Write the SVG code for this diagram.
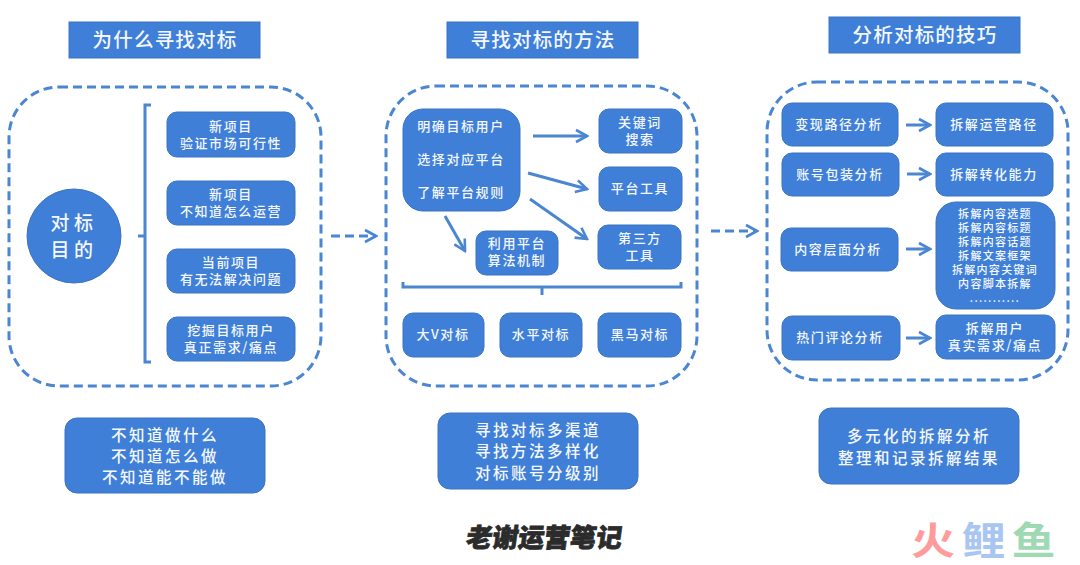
<svg xmlns="http://www.w3.org/2000/svg" width="1080" height="565" viewBox="0 0 1080 565">
<style>
text{font-family:"Noto Sans CJK SC","Noto Sans",sans-serif;fill:#f4f8fd;text-anchor:middle;font-weight:500}
.b{fill:#3f7fd8;stroke:#3a74c2;stroke-width:1}
.p{fill:none;stroke:#4a86d2;stroke-width:3;stroke-dasharray:9 5}
.l{fill:none;stroke:#4a86d2;stroke-width:3}
.d{stroke-dasharray:9 5}
.t{font-size:19.5px;letter-spacing:1.2px}
.n{font-size:13px;letter-spacing:1.6px}
.s{font-size:11px;letter-spacing:1.3px}
.f{font-size:15.5px;letter-spacing:2.5px}
</style>
<defs>
<marker id="a" markerUnits="userSpaceOnUse" markerWidth="16" markerHeight="18" refX="14" refY="9" orient="auto"><path d="M3 3L14 9L3 15" fill="none" stroke="#4a86d2" stroke-width="2.6"/></marker>
</defs>
<g id="panels">
<rect class="p" x="9" y="87" width="312" height="299" rx="50"/>
<rect class="p" x="386" y="86" width="311" height="300" rx="50"/>
<rect class="p" x="767" y="82" width="301" height="298" rx="50"/>
</g>
<g id="connectors">
<path class="l" d="M151 105H145V362H151M138 236H145"/>
<path class="l" d="M403 282V287H681V282M542 287V295"/>
<path class="l d" marker-end="url(#a)" d="M331 236H376"/>
<path class="l d" marker-end="url(#a)" d="M711 231H757"/>
<path class="l" marker-end="url(#a)" d="M533 136H587"/>
<path class="l" marker-end="url(#a)" d="M528 173L587 189"/>
<path class="l" marker-end="url(#a)" d="M530 199L587 239"/>
<path class="l" marker-end="url(#a)" d="M445 216L465 251"/>
<path class="l" marker-end="url(#a)" d="M906 125H930"/>
<path class="l" marker-end="url(#a)" d="M907 174H930"/>
<path class="l" marker-end="url(#a)" d="M906 249H930"/>
<path class="l" marker-end="url(#a)" d="M906 338H930"/>
</g>
<g id="title1"><rect class="b" x="69" y="22" width="191" height="36"/><text class="t" x="165" y="47">为什么寻找对标</text></g>
<g id="title2"><rect class="b" x="447" y="22" width="191" height="36"/><text class="t" x="543" y="47">寻找对标的方法</text></g>
<g id="title3"><rect class="b" x="829" y="17" width="191" height="36"/><text class="t" x="925" y="42">分析对标的技巧</text></g>
<g id="goal"><circle class="b" cx="74" cy="236" r="47"/><text x="74" y="230" font-size="19" letter-spacing="4.500">对标</text><text x="74" y="256.500" font-size="19" letter-spacing="4.500">目的</text></g>
<g id="l1"><rect class="b" x="167" y="112" width="128" height="45" rx="10"/><text class="n" x="231" y="131">新项目</text><text class="n" x="231" y="148">验证市场可行性</text></g>
<g id="l2"><rect class="b" x="167" y="181" width="128" height="44" rx="10"/><text class="n" x="231" y="199">新项目</text><text class="n" x="231" y="216">不知道怎么运营</text></g>
<g id="l3"><rect class="b" x="167" y="249" width="128" height="44" rx="10"/><text class="n" x="231" y="267">当前项目</text><text class="n" x="231" y="284">有无法解决问题</text></g>
<g id="l4"><rect class="b" x="167" y="317" width="128" height="44" rx="10"/><text class="n" x="231" y="335">挖掘目标用户</text><text class="n" x="231" y="352">真正需求/痛点</text></g>
<g id="main"><rect class="b" x="403" y="109" width="117" height="102" rx="20"/><text class="n" x="461" y="131">明确目标用户</text><text class="n" x="461" y="164">选择对应平台</text><text class="n" x="461" y="197">了解平台规则</text></g>
<g id="m1"><rect class="b" x="599" y="109" width="83" height="44" rx="10"/><text class="n" x="640" y="127">关键词</text><text class="n" x="640" y="144">搜索</text></g>
<g id="m2"><rect class="b" x="599" y="167" width="83" height="44" rx="10"/><text class="n" x="640" y="193">平台工具</text></g>
<g id="m3"><rect class="b" x="598" y="225" width="83" height="44" rx="10"/><text class="n" x="640" y="243">第三方</text><text class="n" x="640" y="260">工具</text></g>
<g id="m4"><rect class="b" x="476" y="231" width="82" height="44" rx="10"/><text class="n" x="517" y="248">利用平台</text><text class="n" x="517" y="265">算法机制</text></g>
<g id="m5"><rect class="b" x="403" y="313" width="81" height="44" rx="10"/><text class="n" x="443" y="339">大V对标</text></g>
<g id="m6"><rect class="b" x="500" y="313" width="82" height="44" rx="10"/><text class="n" x="541" y="339">水平对标</text></g>
<g id="m7"><rect class="b" x="598" y="313" width="83" height="44" rx="10"/><text class="n" x="640" y="339">黑马对标</text></g>
<g id="r1"><rect class="b" x="782" y="103" width="116" height="43" rx="10"/><text class="n" x="839" y="129">变现路径分析</text></g>
<g id="r2"><rect class="b" x="782" y="153" width="117" height="43" rx="10"/><text class="n" x="840" y="179">账号包装分析</text></g>
<g id="r3"><rect class="b" x="781" y="228" width="117" height="43" rx="10"/><text class="n" x="838" y="254">内容层面分析</text></g>
<g id="r4"><rect class="b" x="782" y="316" width="118" height="44" rx="10"/><text class="n" x="840" y="342">热门评论分析</text></g>
<g id="r5"><rect class="b" x="936" y="103" width="117" height="43" rx="10"/><text class="n" x="994" y="129">拆解运营路径</text></g>
<g id="r6"><rect class="b" x="936" y="153" width="117" height="43" rx="10"/><text class="n" x="994" y="179">拆解转化能力</text></g>
<g id="r7"><rect class="b" x="936" y="202" width="119" height="107" rx="20"/>
<text class="s" x="995" y="218">拆解内容选题</text><text class="s" x="995" y="232">拆解内容标题</text><text class="s" x="995" y="246">拆解内容话题</text><text class="s" x="995" y="260">拆解文案框架</text><text class="s" x="995" y="274">拆解内容关键词</text><text class="s" x="995" y="288">内容脚本拆解</text><text class="s" x="995" y="302">...........</text></g>
<g id="r8"><rect class="b" x="936" y="315" width="119" height="44" rx="10"/><text class="n" x="995" y="333">拆解用户</text><text class="n" x="995" y="350">真实需求/痛点</text></g>
<g id="f1"><rect class="b" x="65" y="418" width="200" height="75" rx="12"/><text class="f" x="165" y="441">不知道做什么</text><text class="f" x="165" y="462">不知道怎么做</text><text class="f" x="165" y="483">不知道能不能做</text></g>
<g id="f2"><rect class="b" x="438" y="413" width="200" height="76" rx="12"/><text class="f" x="538" y="436">寻找对标多渠道</text><text class="f" x="538" y="457">寻找方法多样化</text><text class="f" x="538" y="479">对标账号分级别</text></g>
<g id="f3"><rect class="b" x="819" y="408" width="200" height="76" rx="12"/><text class="f" x="919" y="442">多元化的拆解分析</text><text class="f" x="919" y="464">整理和记录拆解结果</text></g>
<g id="logos">
<text x="543" y="547" font-size="26" transform="translate(77 0) skewX(-8)" style="fill:#2b2b2b;stroke:#2b2b2b;stroke-width:.8;font-weight:900">老谢运营笔记</text>
<text font-size="38" transform="translate(933 554) scale(1.15 1)" style="fill:#ff9b9b;font-weight:700">火</text>
<text font-size="38" transform="translate(983.500 554) scale(1.15 1)" style="fill:#a9c6f2;font-weight:700">鲤</text>
<text font-size="38" transform="translate(1033.500 554) scale(1.15 1)" style="fill:#9fd9b4;font-weight:700">鱼</text>
</g>
</svg>
